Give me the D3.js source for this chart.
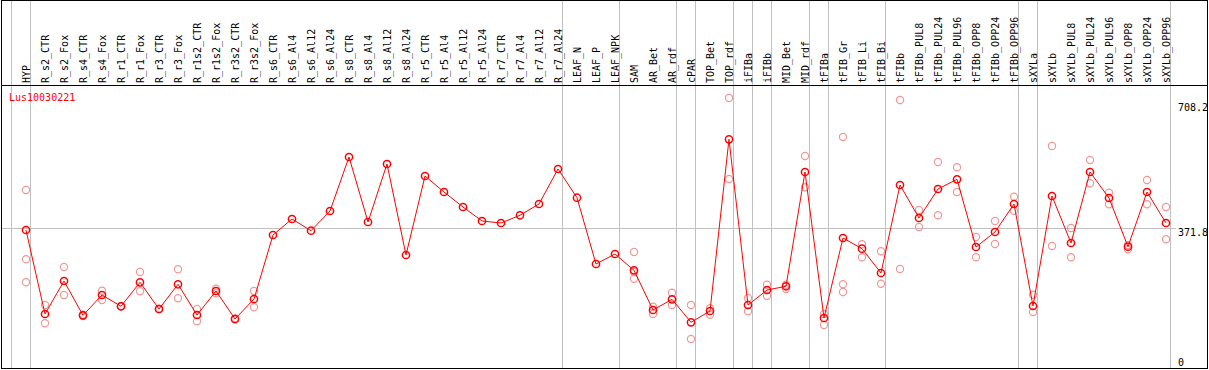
<!DOCTYPE html>
<html>
<head>
<meta charset="utf-8">
<script src="https://cdn.jsdelivr.net/npm/d3@7"></script>
<style>
  body { margin: 0; background: #fff; }
  text { font-family: "DejaVu Sans Mono", monospace; font-size: 10px; }
</style>
</head>
<body>
<div id="chart"></div>
<script>
// gene name shown top-left
const title = "Lus10030221";

const categories = [
  "HYP", "R_s2_CTR", "R_s2_Fox", "R_s4_CTR", "R_s4_Fox", "R_r1_CTR", "R_r1_Fox",
  "R_r3_CTR", "R_r3_Fox", "R_r1s2_CTR", "R_r1s2_Fox", "R_r3s2_CTR", "R_r3s2_Fox",
  "R_s6_CTR", "R_s6_Al4", "R_s6_Al12", "R_s6_Al24", "R_s8_CTR", "R_s8_Al4",
  "R_s8_Al12", "R_s8_Al24", "R_r5_CTR", "R_r5_Al4", "R_r5_Al12", "R_r5_Al24",
  "R_r7_CTR", "R_r7_Al4", "R_r7_Al12", "R_r7_Al24", "LEAF_N", "LEAF_P", "LEAF_NPK",
  "SAM", "AR_Bet", "AR_rdf", "cPAR", "TOP_Bet", "TOP_rdf", "iFIBa", "iFIBb",
  "MID_Bet", "MID_rdf", "tFIBa", "tFIB_Gr", "tFIB_Li", "tFIB_Bi", "tFIBb",
  "tFIBb_PUL8", "tFIBb_PUL24", "tFIBb_PUL96", "tFIBb_OPP8", "tFIBb_OPP24", "tFIBb_OPP96",
  "sXYLa", "sXYLb", "sXYLb_PUL8", "sXYLb_PUL24", "sXYLb_PUL96", "sXYLb_OPP8",
  "sXYLb_OPP24", "sXYLb_OPP96"
];

// first category of each tissue group (gray separators)
const groupStarts = ["HYP", "R_s2_CTR", "LEAF_N", "SAM", "cPAR", "TOP_Bet", "iFIBa",
  "iFIBb", "MID_Bet", "tFIBa", "tFIB_Gr", "tFIBb", "sXYLa", "sXYLb"];

const means = [
  365.6, 139.5, 228.3, 136.0, 190.7, 160.3, 224.8, 153.0, 219.5, 136.8, 201.4, 126.1, 179.9,
  352.1, 395.2, 363.7, 416.7, 562.1, 387.1, 543.2, 298.3, 510.9, 467.9, 427.5, 389.8,
  384.4, 405.2, 435.6, 529.8, 452.5, 274.1, 301.0,
  257.1, 150.3, 179.1, 117.2, 147.6, 609.7, 163.8, 204.1, 214.1, 521.7, 128.8,
  344.1, 315.3, 249.9, 486.7, 397.9, 475.9, 502.0, 319.8, 360.2, 435.6,
  161.1, 457.1, 330.6, 521.7, 451.7, 320.7, 467.9, 384.4
];

const replicates = [
  [473.2, 286.7, 224.8], [163.8, 114.5], [266.0, 190.7], [137.7, 134.1], [202.2, 177.2],
  [161.0, 159.5], [252.6, 200.6], [153.5, 152.5], [259.8, 181.8], [153.0, 119.9],
  [207.6, 195.2], [127.5, 124.5], [201.4, 157.6],
  [], [], [], [], [], [], [], [], [], [], [], [], [], [], [], [], [], [], [],
  [306.4, 252.6, 234.5], [159.2, 139.5], [196.9, 163.8], [163.8, 72.3], [154.9, 137.7],
  [720.8, 502.9], [182.6, 146.8], [218.4, 188.8], [218.4, 206.8], [564.7, 480.5],
  [139.5, 109.9], [615.9, 219.5, 198.7], [327.1, 292.1], [308.3, 221.1], [715.5, 260.6],
  [419.4, 373.7], [548.6, 405.2], [534.3, 467.9], [346.8, 292.1], [389.8, 327.9],
  [455.2, 417.5], [191.5, 144.9], [591.7, 322.5], [371.0, 292.1], [554.0, 491.3],
  [466.0, 434.8], [313.7, 325.0], [500.2, 434.8], [427.5, 340.6]
];

const axisTicks = [708.2, 371.8, 0];

const W = 1209, H = 370;
const left = 11, right = 1170, headerBottom = 85.5, bottom = 368.5;

const svg = d3.select("#chart").append("svg")
  .attr("width", W).attr("height", H)
  .style("display", "block");

const x = d3.scaleBand().domain(categories).range([left, right]).paddingInner(0).paddingOuter(0);
const px = (c) => x(c) + 15;
const y = d3.scaleLinear().domain([0, 708.2]).range([365.85, 102.7]);

// horizontal gridline at the middle tick
svg.append("line")
  .attr("x1", 1).attr("x2", 1176)
  .attr("y1", Math.round(y(371.8)) + 0.5).attr("y2", Math.round(y(371.8)) + 0.5)
  .attr("stroke", "#c0c0c0").attr("stroke-width", 1);

// group separators
const seps = groupStarts.map((c) => Math.round(x(c))).concat([right]);
svg.selectAll("line.sep").data(seps).enter().append("line")
  .attr("class", "sep")
  .attr("x1", (d) => d + 0.5).attr("x2", (d) => d + 0.5)
  .attr("y1", 0).attr("y2", bottom)
  .attr("stroke", "#c0c0c0").attr("stroke-width", 1);

// frame
svg.append("rect")
  .attr("x", 1.5).attr("y", 0.5).attr("width", 1206).attr("height", bottom - 0.5)
  .attr("fill", "none").attr("stroke", "#000").attr("stroke-width", 1);
svg.append("line")
  .attr("x1", 1).attr("x2", 1208).attr("y1", headerBottom).attr("y2", headerBottom)
  .attr("stroke", "#000").attr("stroke-width", 1);

// rotated sample labels
svg.selectAll("text.cat").data(categories).enter().append("text")
  .attr("class", "cat")
  .attr("transform", (d) => "translate(" + px(d) + ",83) rotate(-90)")
  .attr("dy", "0.35em")
  .attr("fill", "#000")
  .text((d) => d);

// right axis labels
svg.selectAll("text.tick").data(axisTicks).enter().append("text")
  .attr("class", "tick")
  .attr("x", 1178)
  .attr("y", (d) => Math.min(y(d) + 8, 366))
  .attr("fill", "#000")
  .text((d) => d);

svg.append("text")
  .attr("x", 9).attr("y", 101)
  .attr("fill", "#ff0000")
  .text(title);

// replicate points
const reps = [];
replicates.forEach((arr, i) => arr.forEach((v) => reps.push({ c: categories[i], v: v })));
svg.selectAll("circle.rep").data(reps).enter().append("circle")
  .attr("class", "rep")
  .attr("cx", (d) => px(d.c)).attr("cy", (d) => y(d.v))
  .attr("r", 3.6)
  .attr("fill", "none").attr("stroke", "#f09898").attr("stroke-width", 1.2);

// mean line + markers
const line = d3.line().x((d, i) => px(categories[i])).y((d) => y(d));
svg.append("path")
  .datum(means)
  .attr("d", line)
  .attr("fill", "none").attr("stroke", "#ff0000").attr("stroke-width", 1);

svg.selectAll("circle.mean").data(means).enter().append("circle")
  .attr("class", "mean")
  .attr("cx", (d, i) => px(categories[i])).attr("cy", (d) => y(d))
  .attr("r", 3.6)
  .attr("fill", "none").attr("stroke", "#ff0000").attr("stroke-width", 1.5);
</script>
</body>
</html>
